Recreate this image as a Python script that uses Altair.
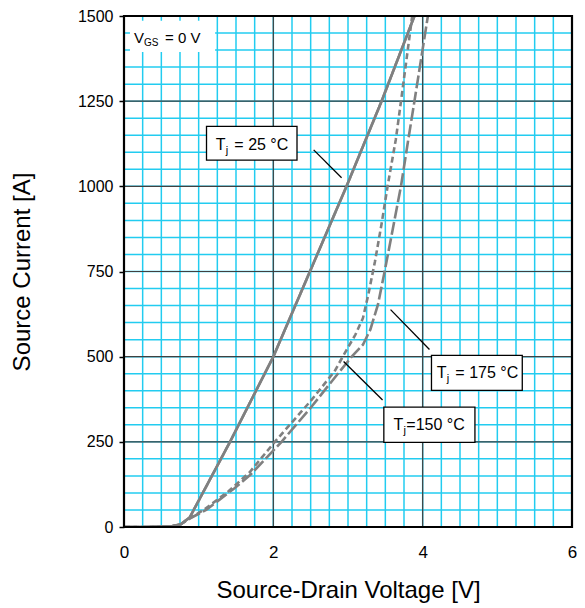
import altair as alt
import pandas as pd

# ---- data ----
v25 = [0, 0.3, 0.64, 0.76, 0.88, 1.42, 2.0, 2.5, 2.98, 3.45, 3.89]
i25 = [0, 0, 2, 8, 28, 250, 500, 755, 1000, 1250, 1500]

v150 = [0, 0.3, 0.64, 0.76, 0.88, 1.08, 1.4, 1.68, 2.02, 2.5, 2.82, 2.93, 3.1, 3.2, 3.27, 3.36, 3.45, 3.53, 3.64, 3.71, 3.86]
i150 = [0, 0, 2, 8, 25, 52, 105, 160, 250, 370, 457, 500, 565, 613, 680, 778, 890, 1000, 1137, 1250, 1500]

v175 = [0, 0.3, 0.64, 0.76, 0.88, 1.1, 1.48, 1.7, 2.11, 2.5, 2.89, 3.05, 3.2, 3.3, 3.40, 3.49, 3.60, 3.71, 3.80, 3.89, 4.07]
i175 = [0, 0, 2, 8, 25, 50, 114, 155, 250, 350, 457, 500, 535, 580, 652, 749, 875, 1001, 1127, 1250, 1500]

x_ticks = [0, 2, 4, 6]
y_ticks = [0, 250, 500, 750, 1000, 1250, 1500]
x_minor = [k * 0.25 for k in range(1, 24)]
y_minor = [k * 50 for k in range(1, 30)]
x_major = [2, 4]
y_major = [250, 500, 750, 1000, 1250]

# annotation boxes (data coords)
box_x = [1.105, 4.118, 3.48]
box_x2 = [2.317, 5.334, 4.70]
box_y = [1176, 504, 352]
box_y2 = [1077, 401, 248.5]
lab_x = [1.23, 4.19, 3.61]
lab_y = [1107, 436, 285]
lab_rest = ["= 25 °C", "= 175 °C", "=150 °C"]
lab_gap = [18.5, 18.5, 12.8]
lead_x = [2.540, 3.570, 2.941]
lead_x2 = [2.914, 4.091, 3.463]
lead_y = [1107, 638, 486]
lead_y2 = [1025, 521, 373]

FONT = "Liberation Sans"
GRAY = "#808080"
CYAN = "#22CCF0"

xs = alt.Scale(domain=[0, 6], nice=False, zero=False)
ys = alt.Scale(domain=[0, 1500], nice=False, zero=False)

def curve(v, i, dash):
    df = pd.DataFrame({"v": v, "i": i, "o": list(range(len(v)))})
    m = alt.Chart(df).mark_line(color=GRAY, strokeWidth=2.6, clip=True,
                                strokeDash=dash if dash else [1, 0])
    return m.encode(
        x=alt.X("v:Q", scale=xs,
                axis=alt.Axis(values=x_ticks, format="d", title="Source-Drain Voltage [V]", grid=False,
                              ticks=False, domain=False, labelFontSize=17, titleFontSize=24,
                              titleFontWeight="normal", labelPadding=17, titlePadding=18,
                              labelFlush=False, labelOverlap=False,
                              labelColor="black", titleColor="black", labelFont=FONT, titleFont=FONT)),
        y=alt.Y("i:Q", scale=ys,
                axis=alt.Axis(values=y_ticks, format="d", title="Source Current [A]", grid=False,
                              ticks=True, tickSize=5, tickColor="black", tickWidth=1.5, domain=False,
                              labelFontSize=16, titleFontSize=24, titleFontWeight="normal",
                              labelFlush=False, labelOverlap=False,
                              labelPadding=6, titlePadding=43, labelColor="black", titleColor="black",
                              labelFont=FONT, titleFont=FONT)),
        order="o:Q",
    )

minor_v = alt.Chart(pd.DataFrame({"v": x_minor})).mark_rule(color=CYAN, strokeWidth=1.5).encode(
    x=alt.X("v:Q", scale=xs))
minor_h = alt.Chart(pd.DataFrame({"i": y_minor})).mark_rule(color=CYAN, strokeWidth=1.5).encode(
    y=alt.Y("i:Q", scale=ys))
major_v = alt.Chart(pd.DataFrame({"v": x_major})).mark_rule(color="#404040", strokeWidth=1.2).encode(
    x=alt.X("v:Q", scale=xs))
major_h = alt.Chart(pd.DataFrame({"i": y_major})).mark_rule(color="#404040", strokeWidth=1.2).encode(
    y=alt.Y("i:Q", scale=ys))

vgs_box = alt.Chart(pd.DataFrame({"x": [0.08], "x2": [1.22], "y": [1486], "y2": [1394]})).mark_rect(
    fill="white", stroke=None).encode(x=alt.X("x:Q", scale=xs), x2="x2:Q", y=alt.Y("y:Q", scale=ys), y2="y2:Q")
vgs_df = pd.DataFrame({"x": [0.134], "y": [1420]})
vgs_V = alt.Chart(vgs_df).mark_text(text="V", align="left", baseline="alphabetic", fontSize=15,
                                    font=FONT, color="black").encode(x=alt.X("x:Q", scale=xs), y=alt.Y("y:Q", scale=ys))
vgs_GS = alt.Chart(vgs_df).mark_text(text="GS", align="left", baseline="alphabetic", fontSize=10,
                                     font=FONT, color="black", dx=10, dy=3).encode(x=alt.X("x:Q", scale=xs), y=alt.Y("y:Q", scale=ys))
vgs_rest = alt.Chart(vgs_df).mark_text(text="= 0 V", align="left", baseline="alphabetic", fontSize=15,
                                       font=FONT, color="black", dx=31).encode(x=alt.X("x:Q", scale=xs), y=alt.Y("y:Q", scale=ys))

boxes = alt.Chart(pd.DataFrame({"x": box_x, "x2": box_x2, "y": box_y, "y2": box_y2})).mark_rect(
    fill="white", stroke="black", strokeWidth=1.3).encode(
    x=alt.X("x:Q", scale=xs), x2="x2:Q", y=alt.Y("y:Q", scale=ys), y2="y2:Q")
leads = alt.Chart(pd.DataFrame({"x": lead_x, "x2": lead_x2, "y": lead_y, "y2": lead_y2})).mark_rule(
    color="black", strokeWidth=1.3).encode(
    x=alt.X("x:Q", scale=xs), x2="x2:Q", y=alt.Y("y:Q", scale=ys), y2="y2:Q")
lab_df = pd.DataFrame({"x": lab_x, "y": lab_y, "rest": lab_rest, "gap": lab_gap})
lab_T = alt.Chart(lab_df).mark_text(text="T", align="left", baseline="alphabetic", fontSize=16,
                                    font=FONT, color="black").encode(x=alt.X("x:Q", scale=xs), y=alt.Y("y:Q", scale=ys))
lab_j = alt.Chart(lab_df).mark_text(text="j", align="left", baseline="alphabetic", fontSize=11,
                                    font=FONT, color="black", dx=10, dy=4).encode(x=alt.X("x:Q", scale=xs), y=alt.Y("y:Q", scale=ys))
lab_r_wide = alt.Chart(lab_df).transform_filter("datum.gap > 15").mark_text(
    align="left", baseline="alphabetic", fontSize=16, font=FONT, color="black", dx=18.5).encode(
    x=alt.X("x:Q", scale=xs), y=alt.Y("y:Q", scale=ys), text="rest:N")
lab_r_tight = alt.Chart(lab_df).transform_filter("datum.gap <= 15").mark_text(
    align="left", baseline="alphabetic", fontSize=16, font=FONT, color="black", dx=12.8).encode(
    x=alt.X("x:Q", scale=xs), y=alt.Y("y:Q", scale=ys), text="rest:N")

frame = alt.Chart(pd.DataFrame({"x": [0], "x2": [6], "y": [0], "y2": [1500]})).mark_rect(
    filled=False, stroke="black", strokeWidth=2.2, clip=False).encode(
    x=alt.X("x:Q", scale=xs), x2="x2:Q", y=alt.Y("y:Q", scale=ys), y2="y2:Q")

chart = alt.layer(
    curve(v25, i25, None),
    minor_v, minor_h, major_v, major_h,
    vgs_box, vgs_V, vgs_GS, vgs_rest,
    curve(v25, i25, None),
    curve(v150, i150, [6, 3.5]),
    curve(v175, i175, [13, 3.5]),
    leads, boxes, lab_T, lab_j, lab_r_wide, lab_r_tight,
    frame,
).properties(
    width=448, height=511,
    autosize=alt.AutoSizeParams(type="none"),
    padding={"left": 116, "top": 8, "right": 5, "bottom": 81},
).configure_view(stroke=None).configure(font=FONT)

chart.save("out.html", embed_options={"renderer": "svg", "actions": False})
